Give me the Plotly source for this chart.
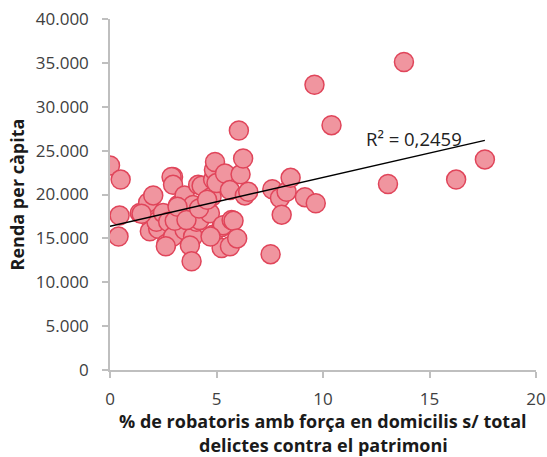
import numpy as np
import plotly.graph_objects as go

# % robatoris amb força en domicilis s/ total delictes contra el patrimoni
robatoris_pct = [
    0.0, 0.5, 0.45, 0.4, 1.4, 1.79, 1.79, 2.03, 1.87, 2.26,
    2.18, 2.49, 2.65, 2.73, 2.96, 2.96, 2.89, 2.96, 3.2, 3.5,
    3.5, 3.9, 3.75, 3.83, 3.9, 4.06, 4.2, 4.14, 4.3, 4.53,
    4.69, 4.84, 4.77, 4.84, 4.88, 4.93, 5.0, 5.24, 5.3, 5.24,
    5.63, 5.4, 5.63, 5.71, 5.8, 5.97, 6.05, 6.13, 6.25, 6.33,
    6.49, 7.54, 7.62, 7.98, 8.06, 8.29, 8.48, 9.15, 9.66, 9.6,
    10.4, 13.05, 13.8, 16.25, 17.6, 3.04, 3.17, 3.59, 1.48, 2.62,
    4.18, 4.56, 4.72,
]
# Renda per càpita
renda = [
    23300, 21700, 17600, 15200, 17900, 17500, 19100, 19900, 15800, 16100,
    16900, 17900, 14400, 16900, 15200, 22000, 22000, 21100, 18800, 19900,
    15950, 15200, 14200, 12400, 18800, 16900, 17100, 21100, 21000, 19200,
    17850, 15400, 19750, 21700, 22800, 23700, 21300, 16300, 16500, 13900,
    14100, 22400, 20500, 17100, 17000, 15000, 27300, 22300, 24100, 19900,
    20300, 13200, 20600, 19600, 17700, 20300, 21900, 19700, 19000, 32500,
    27900, 21200, 35100, 21700, 24000, 17000, 18600, 17100, 17800, 14100,
    18400, 19400, 15200,
]

y_ticks = [0, 5000, 10000, 15000, 20000, 25000, 30000, 35000, 40000]
y_tick_text = ["0", "5.000", "10.000", "15.000", "20.000", "25.000", "30.000", "35.000", "40.000"]
x_ticks = [0, 5, 10, 15, 20]
x_title_lines = ["% de robatoris amb força en domicilis s/ total", "delictes contra el patrimoni"]
y_title = "Renda per càpita"
r2_label = "R² = 0,2459"

x = np.array(robatoris_pct)
y = np.array(renda)
slope, intercept = np.polyfit(x, y, 1)
x_line = np.array([x.min(), x.max()])
y_line = intercept + slope * x_line

font_fam = "Open Sans, Noto Sans, sans-serif"

fig = go.Figure()
fig.add_trace(go.Scatter(
    x=robatoris_pct, y=renda, mode="markers",
    marker=dict(size=19, color="#F0959F", line=dict(color="#E0455A", width=1.5)),
    showlegend=False, hoverinfo="x+y",
))
fig.add_trace(go.Scatter(
    x=x_line, y=y_line, mode="lines",
    line=dict(color="black", width=1.5),
    showlegend=False, hoverinfo="skip",
))
fig.add_annotation(
    x=14.25, y=26400, text=r2_label, showarrow=False,
    font=dict(family=font_fam, size=18.5, color="#222222"),
)
# two-line x-axis title (wider line spacing than plotly's default)
for line_text, ypos in zip(x_title_lines, [-0.1453, -0.2123]):
    fig.add_annotation(
        x=0.5, y=ypos, xref="paper", yref="paper", xanchor="center", yanchor="middle",
        text="<b>" + line_text + "</b>", showarrow=False, borderpad=0, borderwidth=0,
        font=dict(family=font_fam, size=18, color="#1a1a1a"),
    )

fig.update_layout(
    width=547, height=457,
    margin=dict(l=110, r=11, t=19, b=87),
    paper_bgcolor="white", plot_bgcolor="white",
    font=dict(family=font_fam, size=17, color="#404040"),
    xaxis=dict(
        range=[0, 20], tickvals=x_ticks, showgrid=False, zeroline=False,
        showline=True, linecolor="#BFBFBF", linewidth=1.5, automargin=False,
        ticks="outside", tickcolor="#BFBFBF", ticklen=6, tickwidth=1.5,
        ticklabelstandoff=7, ticklabeloverflow="allow",
        tickfont=dict(size=17, color="#404040"),
    ),
    yaxis=dict(
        range=[0, 40000], tickvals=y_ticks, ticktext=y_tick_text, showgrid=False,
        zeroline=False, showline=True, linecolor="#BFBFBF", linewidth=1.5, automargin=False,
        ticks="outside", tickcolor="#BFBFBF", ticklen=6, tickwidth=1.5,
        ticklabelstandoff=10, ticklabeloverflow="allow",
        tickfont=dict(size=17, color="#404040"),
        title=dict(text="<b>" + y_title + "</b>", font=dict(size=18, color="#1a1a1a"), standoff=6),
    ),
)

# remove the page's default body margin so the 547x457 figure fills the window exactly
fig.write_html(
    "out.html",
    config={"displayModeBar": False},
    post_script="document.body.style.margin='0';document.body.style.overflow='hidden';",
)
